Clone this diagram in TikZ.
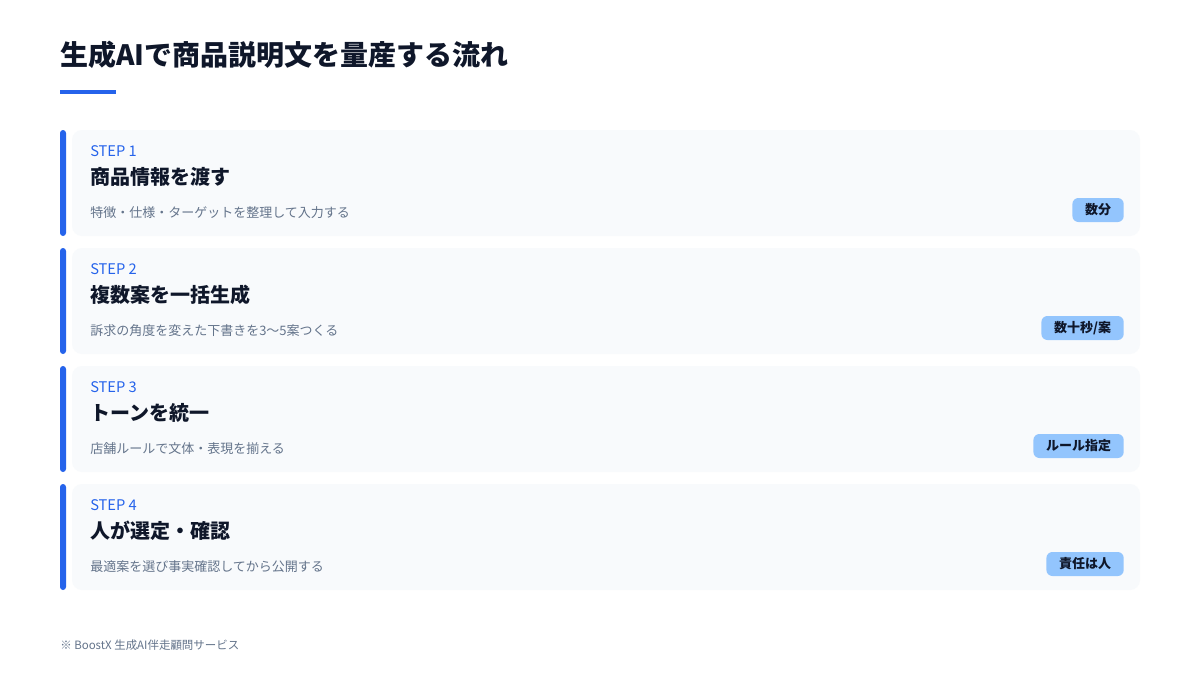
\documentclass[tikz,border=0pt]{standalone}
\usepackage{fontspec}
\setmainfont{Noto Sans CJK JP}
\definecolor{accent}{HTML}{2563EB}
\definecolor{ink}{HTML}{0F172A}
\definecolor{muted}{HTML}{64748B}
\definecolor{cardbg}{HTML}{F8FAFC}
\definecolor{badgebg}{HTML}{93C5FD}
\begin{document}
\begin{tikzpicture}[x=0.75pt, y=-0.75pt,
  card/.style={fill=cardbg, rounded corners=7.5pt, minimum width=801pt, minimum height=79.5pt, inner sep=0pt},
  bar/.style={fill=accent, rounded corners=2.25pt, minimum width=4.5pt, minimum height=79.5pt, inner sep=0pt},
  steplabel/.style={anchor=west, inner sep=0pt, text=accent, font=\fontsize{11pt}{13pt}\selectfont},
  steptitle/.style={anchor=west, inner sep=0pt, text=ink, font=\fontsize{15pt}{18pt}\selectfont\bfseries},
  stepnote/.style={anchor=west, inner sep=0pt, text=muted, font=\fontsize{9.75pt}{12pt}\selectfont},
  badge/.style={anchor=east, fill=badgebg, rounded corners=4.5pt, minimum height=18pt, inner xsep=9.5pt, inner ysep=0pt, text=ink, font=\fontsize{9.75pt}{12pt}\selectfont\bfseries}]
\fill[white] (0,0) rectangle (1200,675);
\useasboundingbox (0,0) rectangle (1200,675);

\node[anchor=west, inner sep=0pt, text=ink, font=\fontsize{21pt}{25pt}\selectfont\bfseries] (page title) at (60,55) {生成AIで商品説明文を量産する流れ};
\node[fill=accent, minimum width=42pt, minimum height=3pt, inner sep=0pt] (title rule) at (88,91.5) {};

\node[card] (step one card) at (606,183) {};
\node[bar] (step one bar) at (63,183) {};
\node[steplabel] (step one label) at (90,151) {STEP 1};
\node[steptitle] (step one title) at (90,177) {商品情報を渡す};
\node[stepnote] (step one note) at (90,213) {特徴・仕様・ターゲットを整理して入力する};
\node[badge] (step one badge) at (1124,210) {数分};

\node[card] (step two card) at (606,301) {};
\node[bar] (step two bar) at (63,301) {};
\node[steplabel] (step two label) at (90,269) {STEP 2};
\node[steptitle] (step two title) at (90,295) {複数案を一括生成};
\node[stepnote] (step two note) at (90,331) {訴求の角度を変えた下書きを3〜5案つくる};
\node[badge] (step two badge) at (1124,328) {数十秒/案};

\node[card] (step three card) at (606,419) {};
\node[bar] (step three bar) at (63,419) {};
\node[steplabel] (step three label) at (90,387) {STEP 3};
\node[steptitle] (step three title) at (90,413) {トーンを統一};
\node[stepnote] (step three note) at (90,449) {店舗ルールで文体・表現を揃える};
\node[badge] (step three badge) at (1124,446) {ルール指定};

\node[card] (step four card) at (606,537) {};
\node[bar] (step four bar) at (63,537) {};
\node[steplabel] (step four label) at (90,505) {STEP 4};
\node[steptitle] (step four title) at (90,531) {人が選定・確認};
\node[stepnote] (step four note) at (90,567) {最適案を選び事実確認してから公開する};
\node[badge] (step four badge) at (1124,564) {責任は人};

\node[anchor=west, inner sep=0pt, text=muted, font=\fontsize{8.6pt}{11pt}\selectfont] (footer note) at (60,645) {※ BoostX 生成AI伴走顧問サービス};
\end{tikzpicture}
\end{document}
